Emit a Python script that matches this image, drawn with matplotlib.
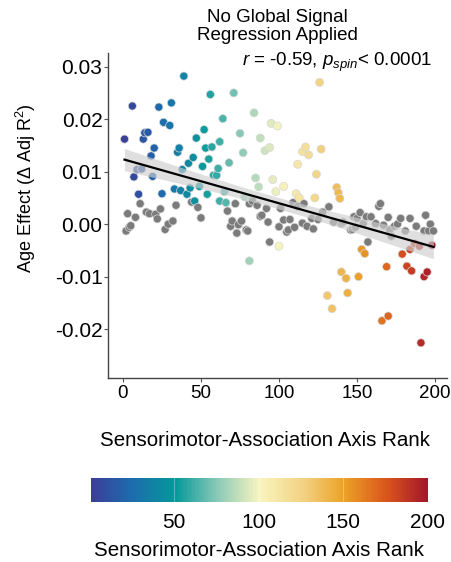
import numpy as np
import matplotlib
matplotlib.use("Agg")
import matplotlib.pyplot as plt
from matplotlib.colors import LinearSegmentedColormap, Normalize
from matplotlib.cm import ScalarMappable

plt.rcParams['font.family'] = 'Liberation Sans'
plt.rcParams['mathtext.fontset'] = 'custom'
plt.rcParams['mathtext.rm'] = 'Liberation Sans'
plt.rcParams['mathtext.it'] = 'Liberation Sans:italic'

# regions with a significant age effect (coloured by S-A rank)
sig_rank = [1, 6, 7, 9, 10, 12, 13, 14, 16, 18, 19, 20, 23, 25, 26, 30, 31, 33, 35, 36,
            37, 38, 39, 41, 42, 43, 45, 46, 47, 49, 51, 52, 53, 54, 55, 56, 57, 58, 60, 61,
            62, 62, 64, 65, 66, 68, 71, 75, 77, 78, 81, 82, 84, 85, 87, 88, 91, 94, 95, 96,
            98, 99, 100, 103, 111, 112, 113, 115, 117, 119, 123, 124, 126, 127,
            131, 134, 137, 138, 139, 140, 143, 144, 151, 153, 155, 166, 169, 170, 179, 182,
            184, 185, 187, 190, 191, 193, 195, 198]
sig_effect = [0.0162, 0.0225, 0.0090, 0.0104, 0.0057, 0.0105, 0.0162, 0.0174, 0.0175, 0.0130,
              0.0091, 0.0145, 0.0223, 0.0058, 0.0194, 0.0188, 0.0231, 0.0067, 0.0137, 0.0145,
              0.0064, 0.0104, 0.0282, 0.0057, 0.0116, 0.0069, 0.0127, 0.0044, 0.0164, 0.0072,
              0.0110, 0.0180, 0.0145, 0.0057, 0.0124, 0.0247, 0.0147, 0.0093, 0.0093, 0.0106,
              0.0044, 0.0157, 0.0201, 0.0062, 0.0041, 0.0117, 0.0250, 0.0173, 0.0136, 0.0052,
              -0.0070, 0.0048, 0.0212, 0.0088, 0.0071, 0.0164, 0.0140, 0.0146, 0.0192, 0.0085,
              0.0062, 0.0187, -0.0042, 0.0072, 0.0058, 0.0114, 0.0050, 0.0138, 0.0147, 0.0132,
              0.0050, 0.0095, 0.0270, 0.0143,
              -0.0136, -0.0161, 0.0070, 0.0060, 0.0049, -0.0091, -0.0103, -0.0131, -0.0100, -0.0048,
              -0.0056, -0.0184, -0.0081, -0.0175, -0.0057, -0.0080, -0.0048, -0.0089, -0.0037, -0.0042,
              -0.0226, -0.0100, -0.0091, -0.0040]

# non-significant regions (grey)
ns_rank = [2, 3, 4, 5, 8, 11, 15, 17, 21, 22, 24, 27, 29, 32, 34, 44, 48, 50,
           67, 69, 70, 72, 73, 74, 76, 79, 80, 81, 83, 86, 88, 89, 92, 93, 94, 100, 101,
           103, 105, 106, 107, 109, 110, 112, 115, 116, 118, 121, 122, 125, 128, 132, 135,
           140, 141, 146, 147, 148, 149, 150, 152, 154, 156, 157, 159, 162, 164, 165, 167,
           170, 171, 172, 174, 176, 178, 181, 184, 188, 193, 194, 196, 197, 199]
ns_effect = [-0.0013, 0.0020, -0.0006, -0.0003, 0.0013, 0.0039, 0.0023, 0.0020, 0.0019, 0.0010,
             0.0029, -0.0010, 0.0000, 0.0006, 0.0036, 0.0042, 0.0032, 0.0012,
             0.0025, -0.0004, 0.0006, 0.0039, -0.0017, -0.0001, 0.0006, -0.0011, -0.0013, 0.0039,
             0.0044, 0.0036, 0.0015, 0.0017, 0.0030, 0.0004, -0.0034, -0.0005, 0.0030,
             0.0008, -0.0015, -0.0011, 0.0009, 0.0041, -0.0006, 0.0034, 0.0002, 0.0039, -0.0004,
             0.0011, -0.0009, 0.0009, 0.0023, 0.0033, 0.0004,
             0.0001, 0.0004, -0.0011, -0.0010, 0.0014, -0.0006, 0.0011, 0.0022, 0.0001, 0.0014,
             -0.0034, 0.0014, 0.0001, 0.0034, 0.0039, -0.0002,
             0.0013, -0.0011, -0.0023, -0.0004, 0.0000, 0.0011, -0.0013, 0.0011, -0.0004, -0.0013,
             0.0017, -0.0013, 0.0000, -0.0013]

x_ticks = [0, 50, 100, 150, 200]
y_ticks = [-0.02, -0.01, 0.00, 0.01, 0.02, 0.03]
cbar_ticks = [50, 100, 150, 200]
stat_text = r"$r$ = -0.59, $p_{spin}$< 0.0001"

cmap = LinearSegmentedColormap.from_list("sa_axis", [
    (0.00, "#3a3f98"), (0.12, "#1d6cad"), (0.25, "#05999b"), (0.38, "#8fcbb8"),
    (0.50, "#f8f5bf"), (0.63, "#f3d283"), (0.75, "#eba326"), (0.88, "#d9541c"),
    (1.00, "#a3162b")])
norm = Normalize(vmin=1, vmax=200)

rank = np.array(sig_rank + ns_rank, dtype=float)
effect = np.array(sig_effect + ns_effect)
colors = [cmap(norm(r)) for r in sig_rank] + ["#7b7b7b"] * len(ns_rank)
order = np.argsort(rank, kind="stable")

fig = plt.figure(figsize=(4.52, 5.62), dpi=100)
ax = fig.add_axes([108 / 452, 1 - 378 / 562, 339 / 452, 325 / 562])

ax.scatter(rank[order], effect[order], s=34, c=[colors[i] for i in order],
           edgecolors="#d8d8d8", linewidths=0.5, zorder=2)

# linear fit with 95% confidence band
slope, intercept = np.polyfit(rank, effect, 1)
n = len(rank)
resid = effect - (slope * rank + intercept)
s_err = np.sqrt(np.sum(resid ** 2) / (n - 2))
xs = np.linspace(rank.min(), rank.max(), 100)
se = s_err * np.sqrt(1 / n + (xs - rank.mean()) ** 2 / np.sum((rank - rank.mean()) ** 2))
fit = slope * xs + intercept
ax.fill_between(xs, fit - 1.97 * se, fit + 1.97 * se, color="#cfcfcf", alpha=0.65,
                lw=0, zorder=3)
ax.plot(xs, fit, color="black", lw=1.6, zorder=4)

ax.set_xlim(-9.6, 207.7)
ax.set_ylim(-0.0293, 0.0326)
ax.set_xticks(x_ticks)
ax.set_yticks(y_ticks)
ax.set_yticklabels(["%.2f" % v for v in y_ticks])
ax.tick_params(axis="y", labelsize=15, length=3, color="#555555", pad=1)
ax.tick_params(axis="x", labelsize=13.5, length=3, color="#555555", pad=2)
for side in ["top", "right"]:
    ax.spines[side].set_visible(False)
for side in ["left", "bottom"]:
    ax.spines[side].set_color("#444444")
    ax.spines[side].set_linewidth(1.0)

fig.text(277.5 / 452, 1 - 26.5 / 562, "No Global Signal\nRegression Applied",
         ha="center", va="center", fontsize=13.5, linespacing=1.15)
fig.text(432 / 452, 1 - 62 / 562, stat_text, ha="right", va="center", fontsize=13.5)
fig.text(26 / 452, 1 - 188 / 562, "Age Effect (\u0394 Adj R$^2$)", rotation=90,
         ha="center", va="center", fontsize=13)
fig.text(264.5 / 452, 1 - 440 / 562, "Sensorimotor-Association Axis Rank",
         ha="center", va="center", fontsize=14.8)

# colour bar
cax = fig.add_axes([91 / 452, 1 - 502 / 562, 337 / 452, 24 / 562])
cb = fig.colorbar(ScalarMappable(norm=norm, cmap=cmap), cax=cax, orientation="horizontal")
cb.outline.set_visible(False)
cb.set_ticks(cbar_ticks)
cax.tick_params(length=0, labelsize=15, pad=8)
for t in cbar_ticks[:-1]:
    cax.axvline(t, color="white", lw=0.8, alpha=0.3)
fig.text(259 / 452, 1 - 551 / 562, "Sensorimotor-Association Axis Rank",
         ha="center", va="center", fontsize=14.8)

fig.savefig("out.png", dpi=100)
